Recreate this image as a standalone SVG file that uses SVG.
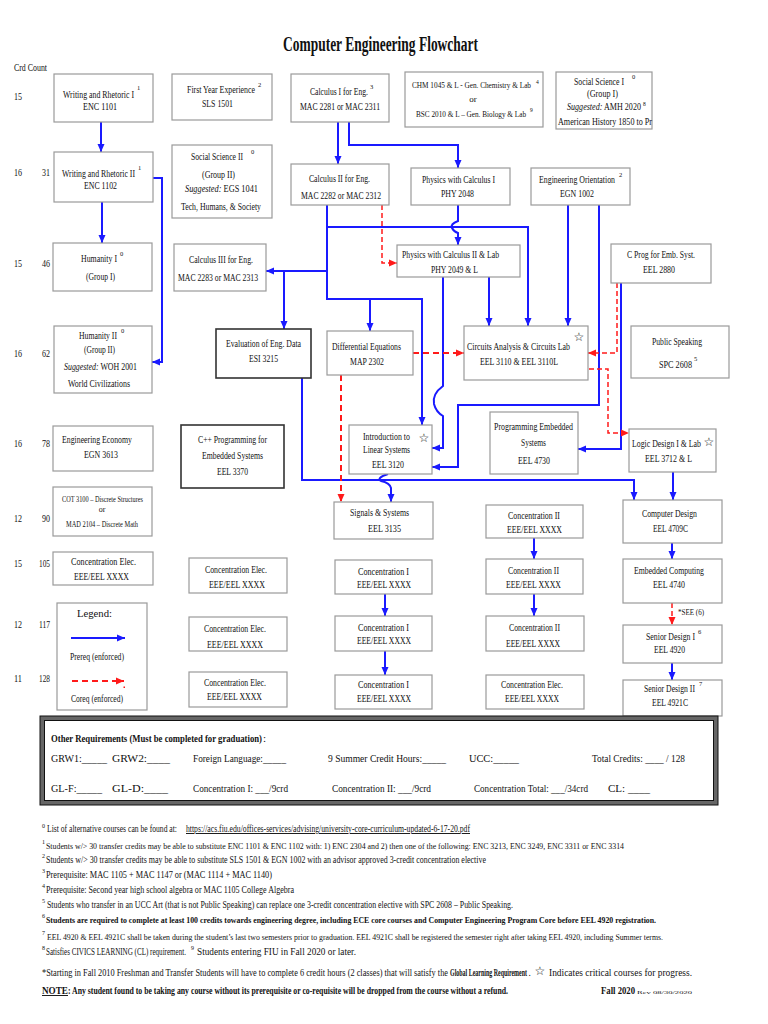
<svg xmlns="http://www.w3.org/2000/svg" width="768" height="1024" viewBox="0 0 768 1024">
<defs>
<style>
.box{fill:#fff;stroke:#9a9a9a;stroke-width:1.2}
.dbox{fill:#fff;stroke:#333;stroke-width:1.6}
.t{font-family:"Liberation Serif","Times New Roman",serif;font-size:10.5px;fill:#111}
.s{font-family:"Liberation Serif","Times New Roman",serif;font-size:6.5px;fill:#111}
.sm{font-size:9px}
.xs{font-size:8px}
.f{font-family:"Liberation Serif","Times New Roman",serif;font-size:9.5px;fill:#111}
.b{font-weight:bold}
.star{font-family:"DejaVu Sans",sans-serif;font-size:12px;fill:#111;text-anchor:middle}
.pre{fill:none;stroke:#1a1aff;stroke-width:2}
.co{fill:none;stroke:#ff1a1a;stroke-width:2;stroke-dasharray:6 4}
.co1{fill:none;stroke:#ff1a1a;stroke-width:1.5;stroke-dasharray:5 3}
</style>
<marker id="ab" markerWidth="8" markerHeight="8" refX="8" refY="4" orient="auto" markerUnits="userSpaceOnUse"><path d="M0,0.5 L8,4 L0,7.5z" fill="#1a1aff"/></marker>
<marker id="ar" markerWidth="8" markerHeight="8" refX="8" refY="4" orient="auto" markerUnits="userSpaceOnUse"><path d="M0,0.5 L8,4 L0,7.5z" fill="#ff1a1a"/></marker>
</defs>
<rect width="768" height="1024" fill="#fff"/>

<text class="t b" x="283" y="51" textLength="195" lengthAdjust="spacingAndGlyphs" style="font-size:20px">Computer Engineering Flowchart</text>

<g id="credits">
<text class="t" x="14" y="71" textLength="33" lengthAdjust="spacingAndGlyphs" style="font-size:10px">Crd Count</text>
<text class="t" x="14" y="100" textLength="8" lengthAdjust="spacingAndGlyphs" style="font-size:10px">15</text>
<text class="t" x="14" y="176" textLength="8" lengthAdjust="spacingAndGlyphs" style="font-size:10px">16</text>
<text class="t" x="42" y="176" textLength="8" lengthAdjust="spacingAndGlyphs" style="font-size:10px">31</text>
<text class="t" x="14" y="267" textLength="8" lengthAdjust="spacingAndGlyphs" style="font-size:10px">15</text>
<text class="t" x="42" y="267" textLength="8" lengthAdjust="spacingAndGlyphs" style="font-size:10px">46</text>
<text class="t" x="14" y="357" textLength="8" lengthAdjust="spacingAndGlyphs" style="font-size:10px">16</text>
<text class="t" x="42" y="357" textLength="8" lengthAdjust="spacingAndGlyphs" style="font-size:10px">62</text>
<text class="t" x="14" y="447" textLength="8" lengthAdjust="spacingAndGlyphs" style="font-size:10px">16</text>
<text class="t" x="42" y="447" textLength="8" lengthAdjust="spacingAndGlyphs" style="font-size:10px">78</text>
<text class="t" x="14" y="522" textLength="8" lengthAdjust="spacingAndGlyphs" style="font-size:10px">12</text>
<text class="t" x="42" y="522" textLength="8" lengthAdjust="spacingAndGlyphs" style="font-size:10px">90</text>
<text class="t" x="14" y="567" textLength="8" lengthAdjust="spacingAndGlyphs" style="font-size:10px">15</text>
<text class="t" x="39" y="567" textLength="11" lengthAdjust="spacingAndGlyphs" style="font-size:10px">105</text>
<text class="t" x="14" y="628" textLength="8" lengthAdjust="spacingAndGlyphs" style="font-size:10px">12</text>
<text class="t" x="39" y="628" textLength="11" lengthAdjust="spacingAndGlyphs" style="font-size:10px">117</text>
<text class="t" x="14" y="682" textLength="8" lengthAdjust="spacingAndGlyphs" style="font-size:10px">11</text>
<text class="t" x="39" y="682" textLength="11" lengthAdjust="spacingAndGlyphs" style="font-size:10px">128</text>
</g>

<g id="connectors">
<path class="pre" d="M101,122 V152" marker-end="url(#ab)"/>
<path class="pre" d="M102,202 V243" marker-end="url(#ab)"/>
<path class="pre" d="M153,178 H162 V362 H152" marker-end="url(#ab)"/>
<path class="pre" d="M338,122 V164" marker-end="url(#ab)"/>
<path class="pre" d="M349,122 V145 H458 V168" marker-end="url(#ab)"/>
<path class="pre" d="M327,205 V299 H422 V425" marker-end="url(#ab)"/>
<path class="pre" d="M327,227 H528 V326" marker-end="url(#ab)"/>
<path class="pre" d="M327,271 H266" marker-end="url(#ab)"/>
<path class="pre" d="M284,271 V329" marker-end="url(#ab)"/>
<path class="pre" d="M370,299 V331" marker-end="url(#ab)"/>
<path class="pre" d="M458,205 V221 Q450,224 452,228 Q454,232 458,233 V245" marker-end="url(#ab)"/>
<path class="pre" d="M489,277 V326" marker-end="url(#ab)"/>
<path class="pre" d="M443,277 V386 Q432,394 434,404 Q436,412 443,416 V448 H432" marker-end="url(#ab)"/>
<path class="pre" d="M568,205 V326" marker-end="url(#ab)"/>
<path class="pre" d="M599,205 V405 H458 V467 H432" marker-end="url(#ab)"/>
<path class="pre" d="M621,283 V449 H578" marker-end="url(#ab)"/>
<path class="pre" d="M302,378 V480 H634 V500" marker-end="url(#ab)"/>
<path class="pre" d="M388,474 Q376,478 381,481 Q390,483 391,488 V502" marker-end="url(#ab)"/>
<path class="pre" d="M673,472 V500" marker-end="url(#ab)"/>
<path class="pre" d="M672,543 V559" marker-end="url(#ab)"/>
<path class="pre" d="M534,538 V559" marker-end="url(#ab)"/>
<path class="pre" d="M534,594 V616" marker-end="url(#ab)"/>
<path class="pre" d="M385,594 V616" marker-end="url(#ab)"/>
<path class="pre" d="M385,651 V675" marker-end="url(#ab)"/>
<path class="pre" d="M672,663 V680" marker-end="url(#ab)"/>
<path class="co1" d="M382,205 V263 H397" marker-end="url(#ar)"/>
<path class="co" d="M413,353 H464" marker-end="url(#ar)"/>
<path class="co1" d="M617,283 V353 H588" marker-end="url(#ar)"/>
<path class="co1" d="M589,369 H608 V433 H629" marker-end="url(#ar)"/>
<path class="co" d="M341,375 V502" marker-end="url(#ar)"/>
<path class="co1" d="M672,603 V625" marker-end="url(#ar)"/>
</g>

<g id="n-enc1101"><rect class="box" x="54" y="74" width="99" height="48"/>
<text class="t" x="63" y="98" textLength="71" lengthAdjust="spacingAndGlyphs">Writing and Rhetoric I</text><text class="s" x="137" y="90">1</text>
<text class="t" x="83" y="110" textLength="34" lengthAdjust="spacingAndGlyphs">ENC 1101</text></g>

<g id="n-sls1501"><rect class="box" x="172" y="74" width="100" height="46"/>
<text class="t" x="187" y="93" textLength="68" lengthAdjust="spacingAndGlyphs">First Year Experience</text><text class="s" x="258" y="87">2</text>
<text class="t" x="202" y="107" textLength="31" lengthAdjust="spacingAndGlyphs">SLS 1501</text></g>

<g id="n-calc1"><rect class="box" x="291" y="74" width="98" height="48"/>
<text class="t" x="310" y="95" textLength="58" lengthAdjust="spacingAndGlyphs">Calculus I for Eng.</text><text class="s" x="370" y="89">3</text>
<text class="t" x="300" y="110" textLength="80" lengthAdjust="spacingAndGlyphs">MAC 2281 or MAC 2311</text></g>

<g id="n-chm"><rect class="box" x="405" y="72" width="138" height="55"/>
<text class="t sm" x="412" y="88" textLength="119" lengthAdjust="spacingAndGlyphs">CHM 1045 &amp; L - Gen. Chemistry &amp; Lab</text><text class="s" x="536" y="84" style="font-size:5.5px">4</text>
<text class="t sm" x="473" y="102" text-anchor="middle">or</text>
<text class="t sm" x="416" y="117" textLength="110" lengthAdjust="spacingAndGlyphs">BSC 2010 &amp; L – Gen. Biology &amp; Lab</text><text class="s" x="530" y="112" style="font-size:5.5px">9</text></g>

<g id="n-socsci1"><rect class="box" x="556" y="72" width="96" height="57"/>
<text class="t" x="574" y="85" textLength="50" lengthAdjust="spacingAndGlyphs">Social Science I</text><text class="s" x="632" y="79">0</text>
<text class="t" x="587" y="97" textLength="31" lengthAdjust="spacingAndGlyphs">(Group I)</text>
<text class="t" x="567" y="110" textLength="74" lengthAdjust="spacingAndGlyphs"><tspan font-style="italic">Suggested:</tspan>  AMH 2020</text><text class="s" x="643" y="106" style="font-size:5.5px">8</text>
<text class="t" x="558" y="125" textLength="94" lengthAdjust="spacingAndGlyphs">American History 1850 to Pr</text></g>

<g id="n-enc1102"><rect class="box" x="54" y="152" width="99" height="50"/>
<text class="t" x="62" y="177" textLength="73" lengthAdjust="spacingAndGlyphs">Writing and Rhetoric II</text><text class="s" x="138" y="170">1</text>
<text class="t" x="84" y="189" textLength="33" lengthAdjust="spacingAndGlyphs">ENC 1102</text></g>

<g id="n-socsci2"><rect class="box" x="172" y="145" width="100" height="73"/>
<text class="t" x="191" y="160" textLength="52" lengthAdjust="spacingAndGlyphs">Social Science II</text><text class="s" x="251" y="154">0</text>
<text class="t" x="202" y="178" textLength="33" lengthAdjust="spacingAndGlyphs">(Group II)</text>
<text class="t" x="185" y="192" textLength="73" lengthAdjust="spacingAndGlyphs"><tspan font-style="italic">Suggested:</tspan> EGS 1041</text>
<text class="t" x="181" y="210" textLength="80" lengthAdjust="spacingAndGlyphs">Tech, Humans, &amp; Society</text></g>

<g id="n-calc2"><rect class="box" x="291" y="164" width="98" height="41"/>
<text class="t" x="309" y="182" textLength="61" lengthAdjust="spacingAndGlyphs">Calculus II for Eng.</text>
<text class="t" x="301" y="199" textLength="80" lengthAdjust="spacingAndGlyphs">MAC 2282 or MAC 2312</text></g>

<g id="n-phy2048"><rect class="box" x="411" y="168" width="99" height="37"/>
<text class="t" x="422" y="183" textLength="73" lengthAdjust="spacingAndGlyphs">Physics with Calculus I</text>
<text class="t" x="441" y="197" textLength="33" lengthAdjust="spacingAndGlyphs">PHY 2048</text></g>

<g id="n-egn1002"><rect class="box" x="531" y="168" width="99" height="37"/>
<text class="t" x="539" y="183" textLength="76" lengthAdjust="spacingAndGlyphs">Engineering Orientation</text><text class="s" x="619" y="177">2</text>
<text class="t" x="560" y="197" textLength="34" lengthAdjust="spacingAndGlyphs">EGN 1002</text></g>

<g id="n-hum1"><rect class="box" x="53" y="243" width="99" height="48"/>
<text class="t" x="81" y="262" textLength="36" lengthAdjust="spacingAndGlyphs">Humanity I</text><text class="s" x="120" y="256">0</text>
<text class="t" x="86" y="280" textLength="29" lengthAdjust="spacingAndGlyphs">(Group I)</text></g>

<g id="n-calc3"><rect class="box" x="174" y="244" width="92" height="47"/>
<text class="t" x="189" y="263" textLength="64" lengthAdjust="spacingAndGlyphs">Calculus III for Eng.</text>
<text class="t" x="178" y="281" textLength="80" lengthAdjust="spacingAndGlyphs">MAC 2283 or MAC 2313</text></g>

<g id="n-phy2049"><rect class="box" x="397" y="245" width="123" height="32"/>
<text class="t" x="402" y="258" textLength="97" lengthAdjust="spacingAndGlyphs">Physics with Calculus II &amp; Lab</text>
<text class="t" x="431" y="273" textLength="47" lengthAdjust="spacingAndGlyphs">PHY 2049 &amp; L</text></g>

<g id="n-eel2880"><rect class="box" x="611" y="244" width="100" height="39"/>
<text class="t" x="627" y="258" textLength="68" lengthAdjust="spacingAndGlyphs">C Prog for Emb. Syst.</text>
<text class="t" x="643" y="273" textLength="32" lengthAdjust="spacingAndGlyphs">EEL 2880</text></g>

<g id="n-hum2"><rect class="box" x="54" y="326" width="98" height="67"/>
<text class="t" x="79" y="339" textLength="38" lengthAdjust="spacingAndGlyphs">Humanity II</text><text class="s" x="121" y="333">0</text>
<text class="t" x="84" y="353" textLength="31" lengthAdjust="spacingAndGlyphs">(Group II)</text>
<text class="t" x="64" y="370" textLength="73" lengthAdjust="spacingAndGlyphs"><tspan font-style="italic">Suggested:</tspan>  WOH 2001</text>
<text class="t" x="68" y="387" textLength="62" lengthAdjust="spacingAndGlyphs">World Civilizations</text></g>

<g id="n-esi3215"><rect class="dbox" x="216" y="329" width="95" height="49"/>
<text class="t" x="226" y="347" textLength="75" lengthAdjust="spacingAndGlyphs">Evaluation of Eng. Data</text>
<text class="t" x="249" y="362" textLength="29" lengthAdjust="spacingAndGlyphs">ESI 3215</text></g>

<g id="n-map2302"><rect class="box" x="327" y="331" width="86" height="44"/>
<text class="t" x="332" y="350" textLength="69" lengthAdjust="spacingAndGlyphs">Differential Equations</text>
<text class="t" x="350" y="365" textLength="34" lengthAdjust="spacingAndGlyphs">MAP 2302</text></g>

<g id="n-eel3110"><rect class="box" x="464" y="326" width="124" height="54"/>
<text class="t" x="467" y="350" textLength="103" lengthAdjust="spacingAndGlyphs">Circuits Analysis &amp; Circuits Lab</text>
<text class="t" x="480" y="365" textLength="78" lengthAdjust="spacingAndGlyphs">EEL 3110 &amp; EEL 3110L</text>
<text class="star" x="579" y="341">☆</text></g>

<g id="n-spc2608"><rect class="box" x="631" y="326" width="98" height="52"/>
<text class="t" x="652" y="345" textLength="50" lengthAdjust="spacingAndGlyphs">Public Speaking</text>
<text class="t" x="659" y="368" textLength="33" lengthAdjust="spacingAndGlyphs">SPC 2608</text><text class="s" x="694" y="361">5</text></g>

<g id="n-egn3613"><rect class="box" x="53" y="426" width="100" height="45"/>
<text class="t" x="62" y="443" textLength="70" lengthAdjust="spacingAndGlyphs">Engineering Economy</text>
<text class="t" x="84" y="458" textLength="34" lengthAdjust="spacingAndGlyphs">EGN 3613</text></g>

<g id="n-eel3370"><rect class="dbox" x="181" y="425" width="103" height="63"/>
<text class="t" x="198" y="443" textLength="69" lengthAdjust="spacingAndGlyphs">C++ Programming for</text>
<text class="t" x="202" y="459" textLength="61" lengthAdjust="spacingAndGlyphs">Embedded Systems</text>
<text class="t" x="217" y="475" textLength="31" lengthAdjust="spacingAndGlyphs">EEL 3370</text></g>

<g id="n-eel3120"><rect class="box" x="349" y="425" width="83" height="49"/>
<text class="t" x="363" y="440" textLength="47" lengthAdjust="spacingAndGlyphs">Introduction to</text>
<text class="t" x="363" y="453" textLength="47" lengthAdjust="spacingAndGlyphs">Linear Systems</text>
<text class="t" x="372" y="468" textLength="32" lengthAdjust="spacingAndGlyphs">EEL 3120</text>
<text class="star" x="424" y="442">☆</text></g>

<g id="n-eel4730"><rect class="box" x="490" y="412" width="88" height="62"/>
<text class="t" x="494" y="430" textLength="79" lengthAdjust="spacingAndGlyphs">Programming Embedded</text>
<text class="t" x="521" y="446" textLength="25" lengthAdjust="spacingAndGlyphs">Systems</text>
<text class="t" x="518" y="464" textLength="32" lengthAdjust="spacingAndGlyphs">EEL 4730</text></g>

<g id="n-eel3712"><rect class="box" x="629" y="429" width="87" height="43"/>
<text class="t" x="632" y="447" textLength="69" lengthAdjust="spacingAndGlyphs">Logic Design I &amp; Lab</text>
<text class="star" x="709" y="446">☆</text>
<text class="t" x="645" y="462" textLength="47" lengthAdjust="spacingAndGlyphs">EEL 3712 &amp; L</text></g>

<g id="n-cot3100"><rect class="box" x="53" y="487" width="99" height="49"/>
<text class="t xs" x="62" y="502" textLength="81" lengthAdjust="spacingAndGlyphs">COT 3100 – Discrete Structures</text>
<text class="t xs" x="102" y="512" text-anchor="middle">or</text>
<text class="t xs" x="66" y="527" textLength="72" lengthAdjust="spacingAndGlyphs">MAD 2104 – Discrete Math</text></g>

<g id="n-eel3135"><rect class="box" x="334" y="502" width="99" height="37"/>
<text class="t" x="350" y="516" textLength="59" lengthAdjust="spacingAndGlyphs">Signals &amp; Systems</text>
<text class="t" x="368" y="532" textLength="33" lengthAdjust="spacingAndGlyphs">EEL 3135</text></g>

<g id="n-conc2-90"><rect class="box" x="486" y="505" width="97" height="33"/>
<text class="t" x="508" y="519" textLength="52" lengthAdjust="spacingAndGlyphs">Concentration II</text>
<text class="t" x="507" y="533" textLength="55" lengthAdjust="spacingAndGlyphs">EEE/EEL XXXX</text></g>

<g id="n-eel4709c"><rect class="box" x="623" y="500" width="99" height="43"/>
<text class="t" x="642" y="517" textLength="55" lengthAdjust="spacingAndGlyphs">Computer Design</text>
<text class="t" x="653" y="532" textLength="35" lengthAdjust="spacingAndGlyphs">EEL 4709C</text></g>

<g id="n-celec-105a"><rect class="box" x="53" y="552" width="100" height="33"/>
<text class="t" x="71" y="565" textLength="65" lengthAdjust="spacingAndGlyphs">Concentration Elec.</text>
<text class="t" x="74" y="580" textLength="55" lengthAdjust="spacingAndGlyphs">EEE/EEL XXXX</text></g>

<g id="n-celec-105b"><rect class="box" x="189" y="558" width="98" height="35"/>
<text class="t" x="205" y="573" textLength="62" lengthAdjust="spacingAndGlyphs">Concentration Elec.</text>
<text class="t" x="209" y="588" textLength="56" lengthAdjust="spacingAndGlyphs">EEE/EEL XXXX</text></g>

<g id="n-conc1-105"><rect class="box" x="335" y="560" width="97" height="34"/>
<text class="t" x="358" y="575" textLength="51" lengthAdjust="spacingAndGlyphs">Concentration I</text>
<text class="t" x="357" y="588" textLength="54" lengthAdjust="spacingAndGlyphs">EEE/EEL XXXX</text></g>

<g id="n-conc2-105"><rect class="box" x="486" y="559" width="97" height="35"/>
<text class="t" x="508" y="574" textLength="51" lengthAdjust="spacingAndGlyphs">Concentration II</text>
<text class="t" x="506" y="588" textLength="55" lengthAdjust="spacingAndGlyphs">EEE/EEL XXXX</text></g>

<g id="n-eel4740"><rect class="box" x="623" y="559" width="99" height="44"/>
<text class="t" x="634" y="574" textLength="70" lengthAdjust="spacingAndGlyphs">Embedded Computing</text>
<text class="t" x="653" y="588" textLength="32" lengthAdjust="spacingAndGlyphs">EEL 4740</text></g>

<g id="n-celec-117"><rect class="box" x="189" y="617" width="98" height="34"/>
<text class="t" x="204" y="632" textLength="62" lengthAdjust="spacingAndGlyphs">Concentration Elec.</text>
<text class="t" x="207" y="648" textLength="56" lengthAdjust="spacingAndGlyphs">EEE/EEL XXXX</text></g>

<g id="n-conc1-117"><rect class="box" x="335" y="616" width="97" height="35"/>
<text class="t" x="358" y="631" textLength="51" lengthAdjust="spacingAndGlyphs">Concentration I</text>
<text class="t" x="357" y="644" textLength="54" lengthAdjust="spacingAndGlyphs">EEE/EEL XXXX</text></g>

<g id="n-conc2-117"><rect class="box" x="486" y="616" width="98" height="35"/>
<text class="t" x="509" y="631" textLength="51" lengthAdjust="spacingAndGlyphs">Concentration II</text>
<text class="t" x="506" y="647" textLength="54" lengthAdjust="spacingAndGlyphs">EEE/EEL XXXX</text></g>

<g id="n-eel4920"><rect class="box" x="623" y="625" width="99" height="38"/>
<text class="t" x="646" y="640" textLength="49" lengthAdjust="spacingAndGlyphs">Senior Design I</text><text class="s" x="698" y="634">6</text>
<text class="t" x="654" y="653" textLength="31" lengthAdjust="spacingAndGlyphs">EEL 4920</text>
<text class="t xs" x="678" y="615" textLength="26" lengthAdjust="spacingAndGlyphs">*SEE  (6)</text></g>

<g id="n-celec-128b"><rect class="box" x="189" y="672" width="98" height="35"/>
<text class="t" x="204" y="686" textLength="62" lengthAdjust="spacingAndGlyphs">Concentration Elec.</text>
<text class="t" x="207" y="700" textLength="55" lengthAdjust="spacingAndGlyphs">EEE/EEL XXXX</text></g>

<g id="n-conc1-128"><rect class="box" x="335" y="675" width="97" height="34"/>
<text class="t" x="358" y="688" textLength="51" lengthAdjust="spacingAndGlyphs">Concentration I</text>
<text class="t" x="357" y="702" textLength="54" lengthAdjust="spacingAndGlyphs">EEE/EEL XXXX</text></g>

<g id="n-celec-128c"><rect class="box" x="486" y="675" width="98" height="34"/>
<text class="t" x="501" y="688" textLength="62" lengthAdjust="spacingAndGlyphs">Concentration Elec.</text>
<text class="t" x="505" y="702" textLength="54" lengthAdjust="spacingAndGlyphs">EEE/EEL XXXX</text></g>

<g id="n-eel4921c"><rect class="box" x="623" y="680" width="99" height="36"/>
<text class="t" x="644" y="692" textLength="51" lengthAdjust="spacingAndGlyphs">Senior Design II</text><text class="s" x="699" y="686">7</text>
<text class="t" x="652" y="706" textLength="36" lengthAdjust="spacingAndGlyphs">EEL 4921C</text></g>

<g id="legend"><rect class="box" x="57" y="603" width="90" height="107"/>
<text class="t" x="77" y="617" textLength="35" lengthAdjust="spacingAndGlyphs">Legend:</text>
<path class="pre" d="M71,638 H125" marker-end="url(#ab)"/>
<text class="t" x="70" y="660" textLength="54" lengthAdjust="spacingAndGlyphs">Prereq (enforced)</text>
<path class="co" d="M72,681 H124" marker-end="url(#ar)"/>
<rect x="123.5" y="686.5" width="1.5" height="1.5" fill="#ff1a1a"/>
<text class="t" x="71" y="702" textLength="52" lengthAdjust="spacingAndGlyphs">Coreq (enforced)</text></g>

<g id="other-requirements">
<rect x="42" y="718" width="674" height="85" fill="#fff" stroke="#666" stroke-width="4"/>
<rect x="40" y="716" width="678" height="89" fill="none" stroke="#111" stroke-width="1"/>
<rect x="44.5" y="720.5" width="669" height="80" fill="none" stroke="#111" stroke-width="1"/>
<text class="t b" x="51" y="742" textLength="211" lengthAdjust="spacingAndGlyphs" style="font-size:11px">Other Requirements (Must be completed for graduation)</text>
<text class="t" x="263" y="742" style="font-size:11px">:</text>
<text class="t" x="51" y="762" textLength="56" lengthAdjust="spacingAndGlyphs" style="font-size:11px">GRW1:_____</text>
<text class="t" x="112" y="762" textLength="58" lengthAdjust="spacingAndGlyphs" style="font-size:11px">GRW2:____</text>
<text class="t" x="193" y="762" textLength="93" lengthAdjust="spacingAndGlyphs" style="font-size:11px">Foreign Language:_____</text>
<text class="t" x="328" y="762" textLength="118" lengthAdjust="spacingAndGlyphs" style="font-size:11px">9 Summer Credit Hours:_____</text>
<text class="t" x="469" y="762" textLength="50" lengthAdjust="spacingAndGlyphs" style="font-size:11px">UCC:_____</text>
<text class="t" x="592" y="762" textLength="93" lengthAdjust="spacingAndGlyphs" style="font-size:11px">Total Credits: ____ / 128</text>
<text class="t" x="51" y="792" textLength="51" lengthAdjust="spacingAndGlyphs" style="font-size:11px">GL-F:_____</text>
<text class="t" x="112" y="792" textLength="56" lengthAdjust="spacingAndGlyphs" style="font-size:11px">GL-D:____</text>
<text class="t" x="193" y="792" textLength="95" lengthAdjust="spacingAndGlyphs" style="font-size:11px">Concentration I: ___/9crd</text>
<text class="t" x="332" y="792" textLength="99" lengthAdjust="spacingAndGlyphs" style="font-size:11px">Concentration II: ___/9crd</text>
<text class="t" x="474" y="792" textLength="114" lengthAdjust="spacingAndGlyphs" style="font-size:11px">Concentration Total: ___/34crd</text>
<text class="t" x="608" y="792" textLength="42" lengthAdjust="spacingAndGlyphs" style="font-size:11px">CL: ____</text>
</g>

<g id="footnotes">
<text class="s" x="42" y="828" style="font-size:6px">0</text>
<text class="f" x="47" y="832" textLength="130" lengthAdjust="spacingAndGlyphs">List of alternative courses can be found at:</text>
<text class="f" x="186" y="832" textLength="284" lengthAdjust="spacingAndGlyphs" text-decoration="underline">https://acs.fiu.edu/offices-services/advising/university-core-curriculum-updated-6-17-20.pdf</text>
<text class="s" x="42" y="844" style="font-size:6px">1</text>
<text class="f" x="46" y="849" textLength="578" lengthAdjust="spacingAndGlyphs" style="font-size:8.5px">Students w/&gt; 30 transfer credits may be able to substitute ENC 1101 &amp; ENC 1102 with: 1) ENC 2304 and 2) then one of the following: ENC 3213, ENC 3249, ENC 3311 or ENC 3314</text>
<text class="s" x="42" y="858" style="font-size:6px">2</text>
<text class="f" x="46" y="863" textLength="440" lengthAdjust="spacingAndGlyphs">Students w/&gt; 30 transfer credits may be able to substitute SLS 1501 &amp; EGN 1002 with an advisor approved 3-credit concentration elective</text>
<text class="s" x="42" y="873" style="font-size:6px">3</text>
<text class="f" x="46" y="878" textLength="226" lengthAdjust="spacingAndGlyphs">Prerequisite: MAC 1105 +  MAC 1147 or (MAC 1114 + MAC 1140)</text>
<text class="s" x="42" y="888" style="font-size:6px">4</text>
<text class="f" x="46" y="893" textLength="248" lengthAdjust="spacingAndGlyphs">Prerequisite: Second year high school algebra or MAC 1105 College Algebra</text>
<text class="s" x="42" y="903" style="font-size:6px">5</text>
<text class="f" x="47" y="908" textLength="466" lengthAdjust="spacingAndGlyphs">Students who transfer in an UCC Art (that is not Public Speaking) can replace one 3-credit concentration elective with SPC 2608 – Public Speaking.</text>
<text class="s" x="42" y="918" style="font-size:6px">6</text>
<text class="f b" x="46" y="923" textLength="610" lengthAdjust="spacingAndGlyphs" style="font-size:8.2px">Students are required to complete at least 100 credits towards engineering degree, including ECE core courses and Computer Engineering Program Core before EEL 4920 registration.</text>
<text class="s" x="42" y="935" style="font-size:6px">7</text>
<text class="f" x="47" y="940" textLength="616" lengthAdjust="spacingAndGlyphs" style="font-size:8.2px">EEL 4920 &amp; EEL 4921C shall be taken during the student’s last two semesters prior to graduation. EEL 4921C shall be registered the semester right after taking EEL 4920, including Summer terms.</text>
<text class="s" x="42" y="950" style="font-size:6px">8</text>
<text class="f" x="46" y="955" textLength="140" lengthAdjust="spacingAndGlyphs">Satisfies CIVICS LEARNING (CL) requirement.</text>
<text class="s" x="191" y="950" style="font-size:6px">9</text>
<text class="f" x="197" y="955" textLength="159" lengthAdjust="spacingAndGlyphs">Students entering FIU in Fall 2020 or later.</text>
<text class="f" x="42" y="976" textLength="406" lengthAdjust="spacingAndGlyphs">*Starting in Fall 2010 Freshman and Transfer Students will have to complete 6 credit hours (2 classes) that will satisfy the</text>
<text class="f b" x="450" y="976" textLength="77" lengthAdjust="spacingAndGlyphs">Global Learning Requirement</text>
<text class="f" x="528.5" y="976">.</text>
<text class="star" x="540" y="975">☆</text>
<text class="f" x="549" y="976" textLength="143" lengthAdjust="spacingAndGlyphs">Indicates critical courses for progress.</text>
<text class="f b" x="42" y="994" text-decoration="underline" textLength="26" lengthAdjust="spacingAndGlyphs">NOTE</text>
<text class="f b" x="68" y="994" textLength="440" lengthAdjust="spacingAndGlyphs">: Any student found to be taking any course without its prerequisite or co-requisite will be dropped from the course without a refund.</text>
<text class="f b" x="601" y="994" textLength="34" lengthAdjust="spacingAndGlyphs" style="font-size:10px">Fall 2020</text>
<text class="f" x="637" y="994" textLength="55" lengthAdjust="spacingAndGlyphs" style="font-size:5px">Rev 08/30/2020</text>
</g>
</svg>
